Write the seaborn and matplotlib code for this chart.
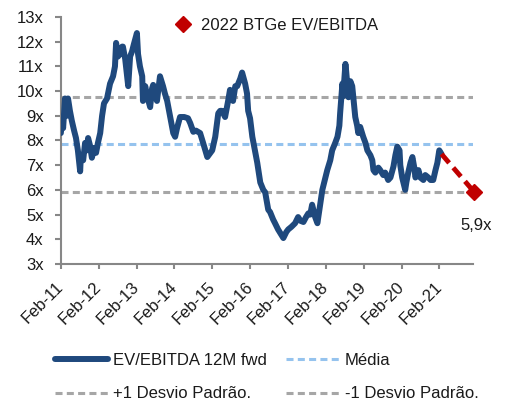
import matplotlib
matplotlib.use("Agg")
import matplotlib.pyplot as plt
import pandas as pd
import seaborn as sns
from matplotlib.lines import Line2D

# EV/EBITDA 12M forward multiple (decimal years, multiple in x)
years = [
    2011.08, 2011.11, 2011.14, 2011.19, 2011.24, 2011.27, 2011.32, 2011.37, 2011.43, 2011.48,
    2011.53, 2011.59, 2011.61, 2011.67, 2011.72, 2011.77, 2011.80, 2011.85, 2011.90, 2011.96,
    2012.01, 2012.06, 2012.12, 2012.17, 2012.22, 2012.30, 2012.38, 2012.46, 2012.51, 2012.54,
    2012.59, 2012.64, 2012.70, 2012.72, 2012.78, 2012.83, 2012.86, 2012.91, 2012.96, 2013.01,
    2013.09, 2013.12, 2013.17, 2013.23, 2013.25, 2013.31, 2013.36, 2013.44, 2013.49, 2013.52,
    2013.57, 2013.62, 2013.70, 2013.78, 2013.83, 2013.89, 2013.97, 2014.05, 2014.10, 2014.15,
    2014.23, 2014.34, 2014.44, 2014.50, 2014.58, 2014.65, 2014.76, 2014.84, 2014.95, 2015.03,
    2015.08, 2015.16, 2015.24, 2015.29, 2015.34, 2015.42, 2015.50, 2015.55, 2015.63, 2015.69,
    2015.74, 2015.82, 2015.87, 2015.95, 2016.00, 2016.03, 2016.08, 2016.14, 2016.22, 2016.27,
    2016.35, 2016.43, 2016.48, 2016.56, 2016.61, 2016.69, 2016.74, 2016.82, 2016.88, 2016.96,
    2017.04, 2017.09, 2017.17, 2017.27, 2017.35, 2017.41, 2017.49, 2017.56, 2017.62, 2017.67,
    2017.72, 2017.80, 2017.86, 2017.94, 2017.99, 2018.07, 2018.12, 2018.20, 2018.25, 2018.33,
    2018.39, 2018.44, 2018.46, 2018.52, 2018.54, 2018.60, 2018.62, 2018.68, 2018.73, 2018.78,
    2018.83, 2018.86, 2018.91, 2018.94, 2018.99, 2019.07, 2019.13, 2019.18, 2019.26, 2019.31,
    2019.34, 2019.39, 2019.47, 2019.52, 2019.60, 2019.65, 2019.73, 2019.79, 2019.87, 2019.92,
    2019.97, 2020.03, 2020.05, 2020.10, 2020.18, 2020.21, 2020.26, 2020.32, 2020.37, 2020.42,
    2020.45, 2020.53, 2020.58, 2020.66, 2020.71, 2020.79, 2020.85, 2020.92, 2020.98, 2021.03,
    2021.08, 2021.14,
]
multiples = [
    8.3, 8.9, 8.5, 9.7, 9.0, 9.7, 9.2, 8.8, 8.4, 8.1,
    7.6, 6.75, 7.4, 7.2, 7.9, 7.6, 8.1, 7.8, 7.3, 7.7,
    7.5, 7.9, 8.3, 9.0, 9.5, 9.7, 10.3, 10.6, 11.0, 11.95,
    11.4, 11.5, 11.8, 11.8, 11.3, 10.6, 10.2, 11.4, 11.6, 11.9,
    12.35, 11.5, 11.0, 10.6, 9.6, 10.2, 9.8, 9.35, 10.1, 10.25,
    9.8, 9.6, 10.6, 10.2, 9.9, 9.6, 8.95, 8.3, 8.15, 8.5,
    8.95, 8.95, 8.9, 8.7, 8.35, 8.4, 8.3, 7.9, 7.33, 7.5,
    7.6, 8.15, 9.1, 9.2, 9.2, 8.95, 9.6, 10.05, 9.6, 10.2,
    10.2, 10.5, 10.75, 10.3, 9.9, 9.2, 8.9, 8.15, 7.5, 7.1,
    6.3, 6.0, 5.9, 5.2, 5.1, 4.8, 4.65, 4.4, 4.25, 4.05,
    4.3, 4.4, 4.5, 4.65, 4.9, 4.75, 4.7, 4.9, 5.05, 5.0,
    5.4, 4.9, 4.65, 5.5, 6.0, 6.5, 6.8, 7.2, 7.6, 7.9,
    8.15, 8.6, 9.1, 10.3, 9.8, 11.1, 10.8, 9.75, 10.4, 10.2,
    9.4, 8.95, 8.6, 8.3, 8.55, 8.15, 7.9, 7.6, 7.4, 7.2,
    6.8, 6.7, 6.9, 6.8, 6.6, 6.7, 6.4, 6.5, 6.95, 7.4,
    7.75, 7.6, 7.0, 6.5, 6.0, 6.3, 6.7, 7.1, 7.33, 6.9,
    6.5, 6.8, 6.5, 6.4, 6.6, 6.5, 6.4, 6.4, 6.8, 7.1,
    7.6, 7.45,
]

media = 7.85
desvio_mais = 9.78
desvio_menos = 5.92

alvo_ano = 2022.01
alvo_valor = 5.9

x_ticks = [2011.083 + i for i in range(11)]
x_labels = ["Feb-11", "Feb-12", "Feb-13", "Feb-14", "Feb-15", "Feb-16",
            "Feb-17", "Feb-18", "Feb-19", "Feb-20", "Feb-21"]
y_ticks = list(range(3, 14))
y_labels = [f"{v}x" for v in y_ticks]

AZUL = "#1F497D"
AZUL_CLARO = "#95C3EE"
CINZA = "#A6A6A6"
VERMELHO = "#C00000"
TEXTO = "#1a1a1a"
EIXO = "#878787"

sns.set_theme(style="white")
plt.rcParams["font.family"] = ["Liberation Sans", "DejaVu Sans"]
plt.rcParams["font.size"] = 12
plt.rcParams["text.color"] = TEXTO

fig = plt.figure(figsize=(5.08, 4.11), dpi=100)
ax = fig.add_axes([0.120, 0.3577, 0.811, 0.601])

df = pd.DataFrame({"ano": years, "multiplo": multiples})

dash_fino = (0, (2.3, 1.4))
ax.axhline(desvio_mais, color=CINZA, lw=2.2, ls=dash_fino, zorder=1)
ax.axhline(desvio_menos, color=CINZA, lw=2.2, ls=dash_fino, zorder=1)
ax.axhline(media, color=AZUL_CLARO, lw=2.2, ls=dash_fino, zorder=1)

sns.lineplot(data=df, x="ano", y="multiplo", ax=ax, color=AZUL, lw=4.3,
             solid_joinstyle="round", solid_capstyle="round", zorder=3,
             legend=False)

# projection to the 2022 estimate
ax.plot([years[-1], alvo_ano], [multiples[-1], alvo_valor], color=VERMELHO,
        lw=3.5, ls=(0, (2.4, 1.3)), clip_on=False, zorder=4)
ax.plot([alvo_ano], [alvo_valor], marker="D", ms=8.5, color=VERMELHO,
        ls="none", clip_on=False, zorder=5)
ax.annotate(f"{alvo_valor:.1f}x".replace(".", ","), xy=(alvo_ano, alvo_valor),
            xytext=(1, -24), textcoords="offset points", ha="center",
            va="center", fontsize=12, color=TEXTO, annotation_clip=False)

ax.set_xlim(2011.083, 2021.97)
ax.set_ylim(3, 13)
ax.set_xticks(x_ticks)
ax.set_xticklabels(x_labels, rotation=45, ha="right", va="center",
                   rotation_mode="anchor")
ax.set_yticks(y_ticks)
ax.set_yticklabels(y_labels)
ax.set_xlabel("")
ax.set_ylabel("")

for side in ["top", "right"]:
    ax.spines[side].set_visible(False)
for side in ["left", "bottom"]:
    ax.spines[side].set_color(EIXO)
    ax.spines[side].set_linewidth(1.5)

ax.tick_params(axis="y", left=True, length=4.5, width=1.5, color=EIXO,
               pad=8, labelsize=12, labelcolor=TEXTO)
ax.tick_params(axis="x", bottom=True, length=3.5, width=1.5, color=EIXO,
               pad=11, labelsize=12, labelcolor=TEXTO)

# estimate legend inside the plot
h_alvo = Line2D([], [], marker="D", ms=8.5, color=VERMELHO, ls="none")
fig.legend(handles=[h_alvo], labels=["2022 BTGe EV/EBITDA"],
           loc="center left", bbox_to_anchor=(173 / 508, 1 - 25 / 411),
           frameon=False, borderpad=0, borderaxespad=0, handlelength=1.2,
           handletextpad=0.5, fontsize=12)

# series legend below the chart
h_serie = Line2D([], [], color=AZUL, lw=4.3)
h_media = Line2D([], [], color=AZUL_CLARO, lw=2.2, ls=dash_fino)
h_mais = Line2D([], [], color=CINZA, lw=2.2, ls=dash_fino)
h_menos = Line2D([], [], color=CINZA, lw=2.2, ls=dash_fino)
fig.legend(handles=[h_serie, h_mais, h_media, h_menos],
           labels=["EV/EBITDA 12M fwd", "+1 Desvio Padrão.", "Média",
                   "-1 Desvio Padrão."],
           ncol=2, loc="upper left", bbox_to_anchor=(55 / 508, 1 - 353 / 411),
           frameon=False, borderpad=0, borderaxespad=0, handlelength=3.2,
           handletextpad=0.3, columnspacing=1.15, labelspacing=1.1,
           fontsize=12)

fig.savefig("out.png", dpi=100)
